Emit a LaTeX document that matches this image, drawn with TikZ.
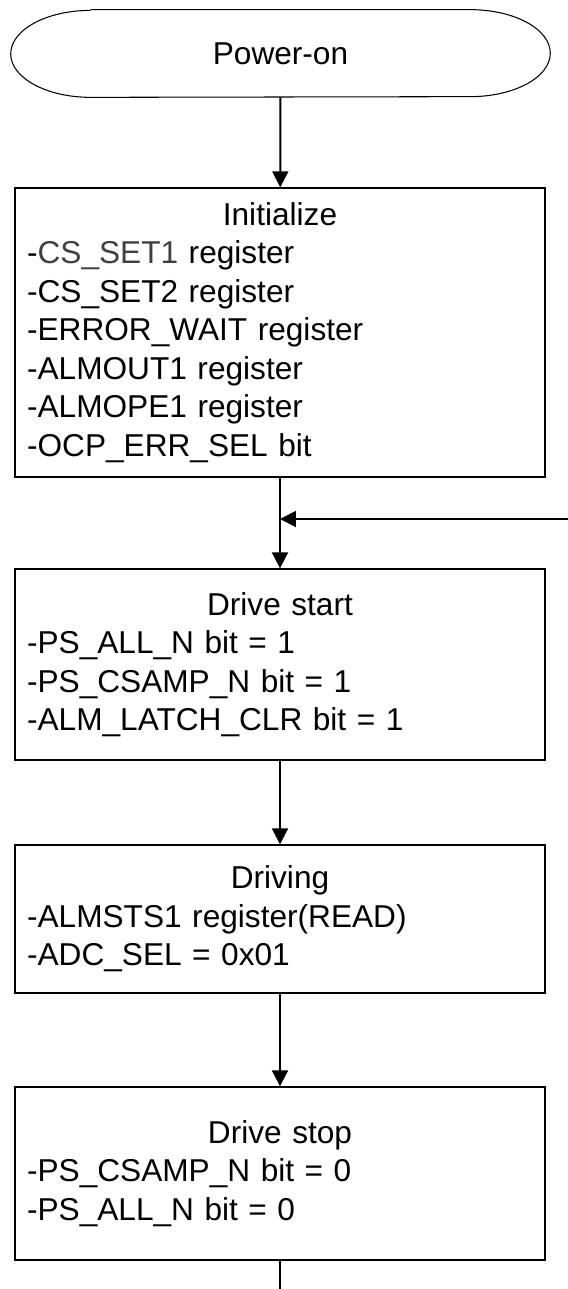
\documentclass[tikz,border=0pt]{standalone}
\usepackage{fontspec}
\setmainfont{Liberation Sans}
\usepackage{xcolor}
\usetikzlibrary{arrows.meta}

\definecolor{regtxt}{gray}{0.25}
\newcommand{\stephead}[1]{\makebox[10.12cm]{#1}\\}

\begin{document}
\begin{tikzpicture}[x=0.02cm, y=-0.02cm,
    every node/.style={font=\fontsize{18}{21.9}\selectfont},
    proc/.style={draw, line width=0.8pt, minimum width=10.6cm, text width=10.12cm,
      inner xsep=0.24cm, align=left},
    flow/.style={line width=1.1pt, -{Triangle[width=0.32cm, length=0.32cm]}}]
        \useasboundingbox (0,0) rectangle (568,1289);

        \node[minimum width=10.78cm, minimum height=1.74cm] (pwr) at (280.5,53.5) {Power-on};
        \draw[line width=0.6pt] ([xshift=1.6cm]pwr.north west) -- ([xshift=-1.6cm]pwr.north east)
          arc[start angle=90, end angle=-90, x radius=1.6cm, y radius=0.87cm]
          -- ([xshift=1.6cm]pwr.south west)
          arc[start angle=270, end angle=90, x radius=1.6cm, y radius=0.87cm];

        \node[proc, minimum height=5.78cm] (init) at (280,332.5) {\stephead{Initialize}
          -\textcolor{regtxt}{CS\_SET1} register\\
          -CS\_SET2 register\\
          -ERROR\_WAIT register\\
          -ALMOUT1 register\\
          -ALMOPE1 register\\
          -OCP\_ERR\_SEL bit};

        \node[proc, minimum height=3.82cm] (dstart) at (280,664.5) {\stephead{Drive start}
          -PS\_ALL\_N bit = 1\\
          -PS\_CSAMP\_N bit = 1\\
          -ALM\_LATCH\_CLR bit = 1};

        \node[proc, minimum height=2.96cm] (drv) at (280,919) {\stephead{Driving}
          -ALMSTS1 register(READ)\\
          -ADC\_SEL = 0x01};

        \node[proc, minimum height=3.46cm] (dstop) at (280,1173.5) {\stephead{Drive stop}
          -PS\_CSAMP\_N bit = 0\\
          -PS\_ALL\_N bit = 0};

        \coordinate (join) at (280,519);
        \coordinate (loopin) at (568,519);
        \coordinate (tail) at (280,1289);

        \foreach \a/\b in {pwr/init, init/dstart, dstart/drv, drv/dstop} {
          \draw[flow] (\a) -- (\b);
        }
        \draw[flow] (loopin) -- (join);
        \draw[line width=1.1pt] (dstop) -- (tail);
\end{tikzpicture}
\end{document}
